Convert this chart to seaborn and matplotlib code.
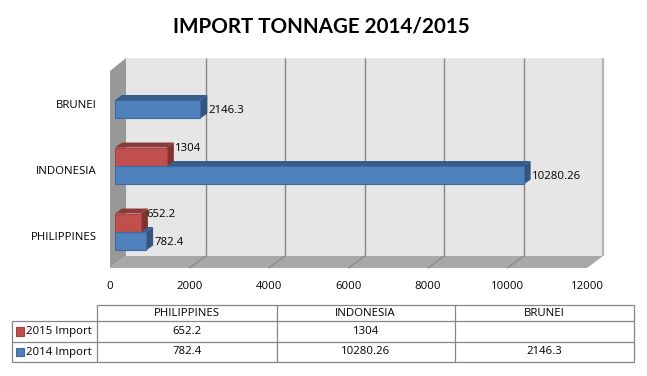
import numpy as np
import pandas as pd
import seaborn as sns
import matplotlib.pyplot as plt
from matplotlib.patches import Polygon, Rectangle
from matplotlib.transforms import IdentityTransform, ScaledTranslation

countries = ["BRUNEI", "INDONESIA", "PHILIPPINES"]
table_countries = ["PHILIPPINES", "INDONESIA", "BRUNEI"]
import_2015 = [np.nan, 1304, 652.2]
import_2014 = [2146.3, 10280.26, 782.4]
series_names = ["2015 Import", "2014 Import"]
x_ticks = [0, 2000, 4000, 6000, 8000, 10000, 12000]

W, H = 647, 376
DX, DY = 7, 5  # depth of the bars, px
FRONT, TOP = {"2015 Import": "#C0504D", "2014 Import": "#4F81BD"}, {"2015 Import": "#8C3A38", "2014 Import": "#385D8A"}
SIDE = {"2015 Import": "#7F3331", "2014 Import": "#34557F"}
EDGE = {"2015 Import": "#A5413E", "2014 Import": "#3D6AA0"}
LINE = "#868686"

sns.set_style("white")
plt.rcParams["font.family"] = ["Open Sans", "DejaVu Sans"]
plt.rcParams["text.color"] = "black"

fig = plt.figure(figsize=(W / 100, H / 100), dpi=100)

# background axes in pixel coords for the box and the table
bg = fig.add_axes([0, 0, 1, 1], zorder=0)
bg.set_xlim(0, W)
bg.set_ylim(H, 0)
bg.axis("off")

px_per_unit = 477 / 12000
bg.add_patch(Polygon([(126, 58), (603, 58), (603, 256), (126, 256)], fc="#E6E6E6", ec="none"))
bg.add_patch(Polygon([(110, 71), (126, 58), (126, 256), (110, 268)], fc="#989898", ec="none"))
bg.add_patch(Polygon([(126, 256), (603, 256), (587, 268), (110, 268)], fc="#A8A8A8", ec="none"))
bg.plot([603, 603], [58, 256], color="#B4B4B4", lw=1.6, solid_capstyle="butt")
for t in x_ticks[1:-1]:
    xb = 126 + t * px_per_unit
    bg.plot([xb, xb], [58, 256], color=LINE, lw=1.0, solid_capstyle="butt")
    bg.plot([xb, xb - 16], [256, 268], color=LINE, lw=0.8)

# bars
ax = fig.add_axes([115 / W, 1 - 265 / H, 477 / W, 198 / H], zorder=1)
ax.patch.set_alpha(0)
df = pd.DataFrame({"country": countries * 2,
                   "series": [series_names[0]] * 3 + [series_names[1]] * 3,
                   "tonnage": import_2015 + import_2014})
sns.barplot(data=df, y="country", x="tonnage", hue="series", order=countries, hue_order=series_names,
            palette=FRONT, width=0.56, saturation=1, orient="h", legend=False, ax=ax)
ax.set_xlim(0, 12000)
ax.set_ylim(2.5, -0.5)
ax.set_xlabel("")
ax.set_ylabel("")
ax.set_xticks(x_ticks)
sns.despine(ax=ax, left=True, bottom=True)
ax.tick_params(axis="x", length=0, pad=11.5, labelsize=8.2, labelcolor="black")
ax.tick_params(axis="y", length=0, pad=13, labelsize=8.2, labelcolor="black")
for lbl in ax.get_xticklabels():
    lbl.set_transform(lbl.get_transform() + ScaledTranslation(-5 / 100, 0, fig.dpi_scale_trans))
for lbl in ax.get_yticklabels():
    lbl.set_transform(lbl.get_transform() + ScaledTranslation(0, -4 / 100, fig.dpi_scale_trans))

label_offset = {"2015 Import": (8, 8), "2014 Import": (8, -1)}
# blue first so the red depth faces sit on top of it
for name, cont in reversed(list(zip(series_names, ax.containers))):
    for bar in cont:
        if np.isnan(bar.get_width()) or bar.get_width() == 0:
            continue
        bar.set_edgecolor(EDGE[name])
        bar.set_linewidth(0.8)
        bar.set_zorder(5)
        e = bar.get_window_extent()
        top = [(e.x0, e.y1), (e.x0 + DX, e.y1 + DY), (e.x1 + DX, e.y1 + DY), (e.x1, e.y1)]
        side = [(e.x1, e.y0), (e.x1, e.y1), (e.x1 + DX, e.y1 + DY), (e.x1 + DX, e.y0 + DY)]
        ax.add_patch(Polygon(top, fc=TOP[name], ec="none", transform=IdentityTransform(), zorder=4))
        ax.add_patch(Polygon(side, fc=SIDE[name], ec="none", transform=IdentityTransform(), zorder=4))
        val = bar.get_width()
        ox, oy = label_offset[name]
        if val < 1000 and name == "2015 Import":
            ox = 5
        ax.annotate(f"{val:.10g}", xy=(val, bar.get_y() + bar.get_height() / 2), xytext=(ox * 0.72, oy * 0.72),
                    textcoords="offset points", ha="left", va="center", fontsize=8.2, color="black",
                    annotation_clip=False, zorder=6)

fig.text(321.5 / W, 1 - 26.5 / H, "IMPORT TONNAGE 2014/2015", ha="center", va="center",
         fontsize=14.9, fontweight="bold", family=["Lato", "DejaVu Sans"], color="black")

# data table
col_x = [97, 276.5, 455, 634]
row_y = [305, 321, 342, 362]
for x in col_x:
    bg.plot([x, x], [row_y[0], row_y[-1]], color=LINE, lw=0.9, solid_capstyle="butt")
for y in row_y[1:]:
    bg.plot([11.5, col_x[-1]], [y, y], color=LINE, lw=0.9, solid_capstyle="butt")
bg.plot(col_x[::3], [row_y[0], row_y[0]], color=LINE, lw=0.9, solid_capstyle="butt")
bg.plot([11.5, 11.5], [row_y[1], row_y[-1]], color=LINE, lw=0.9, solid_capstyle="butt")
for i, c in enumerate(table_countries):
    bg.text((col_x[i] + col_x[i + 1]) / 2, 313, c, ha="center", va="center", fontsize=8.2)
table_rows = [import_2015[::-1], import_2014[::-1]]
for j, name in enumerate(series_names):
    yc = (row_y[j + 1] + row_y[j + 2]) / 2
    bg.add_patch(Rectangle((15.5, yc - 4.5), 8.5, 8.5, fc=FRONT[name], ec=EDGE[name], lw=0.8))
    bg.text(26.5, yc, name, ha="left", va="center", fontsize=8.2)
    for i, val in enumerate(table_rows[j]):
        txt = "" if np.isnan(val) else f"{val:.10g}"
        bg.text((col_x[i] + col_x[i + 1]) / 2, yc, txt, ha="center", va="center", fontsize=8.2)

fig.savefig("out.png", dpi=100)
